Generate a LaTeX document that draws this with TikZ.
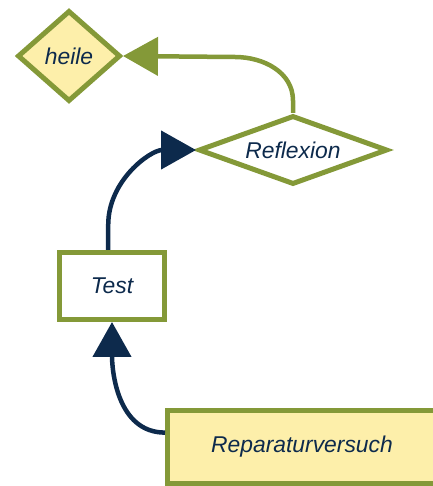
\documentclass[tikz,border=0pt]{standalone}
\usepackage{fontspec}
\setmainfont{Liberation Sans}
\usetikzlibrary{shapes.geometric}
\usetikzlibrary{arrows.meta}

\definecolor{olive}{HTML}{849938}
\definecolor{navy}{HTML}{0D2A4C}
\definecolor{paleyellow}{HTML}{FDEFAA}

\tikzset{
  box/.style={draw=olive,line width=0.1cm,text=navy,font=\fontsize{13}{15}\selectfont\itshape,inner sep=0pt},
  link/.style={line width=0.09cm,-{Triangle[length=0.7cm,width=0.76cm]}}
}

\begin{document}
\begin{tikzpicture}
\useasboundingbox (0,0) rectangle (8.66,9.72);
\path (1.38,8.60) node[diamond,aspect=1.13,box,fill=paleyellow,minimum width=2.06cm,minimum height=1.82cm](heile) {heile}
(5.86,6.72) node[diamond,aspect=2.7,box,fill=white,minimum width=3.78cm,minimum height=1.38cm](Reflexion) {Reflexion}
(2.24,4.00) node[rectangle,box,fill=white,minimum width=2.10cm,minimum height=1.34cm](Test) {Test}
(6.04,0.78) node[rectangle,box,fill=paleyellow,minimum width=5.38cm,minimum height=1.46cm](Rep) {Reparaturversuch}
;
\coordinate (bend) at (4.70,8.58);
\draw[link,olive] (Reflexion.north) -- ++(0,0.25) to[out=90,in=0] (bend) -- (heile.east);
\draw[link,navy] (Test.96) -- ++(0,0.5) to[out=90,in=180] (Reflexion.west);
\draw[link,navy] (Rep.174) to[out=180,in=-90] (Test.south);

\end{tikzpicture}
\end{document}
